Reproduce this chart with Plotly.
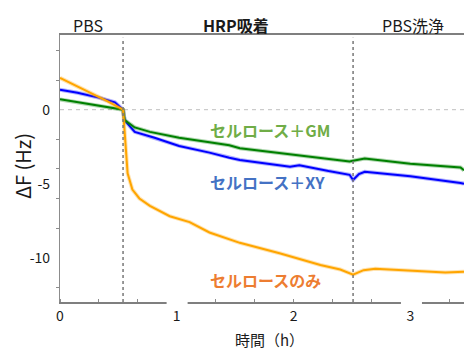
import plotly.graph_objects as go

# ---- data (time in hours, ΔF in Hz) ----
only_t = [0.0, 0.20, 0.40, 0.54, 0.553, 0.579, 0.62, 0.68, 0.77, 0.94, 1.11, 1.28, 1.54, 1.88, 2.23, 2.40, 2.51, 2.60, 2.70, 3.08, 3.30, 3.46]
only_v = [2.15, 1.40, 0.60, 0.0, -1.6, -4.3, -5.4, -6.0, -6.5, -7.2, -7.6, -8.3, -9.0, -9.7, -10.5, -10.8, -11.15, -10.85, -10.75, -10.9, -11.0, -10.95]

xy_t = [0.0, 0.15, 0.34, 0.47, 0.54, 0.553, 0.64, 0.81, 1.02, 1.28, 1.45, 1.54, 1.97, 2.05, 2.30, 2.48, 2.51, 2.56, 2.61, 3.00, 3.43, 3.46]
xy_v = [1.35, 1.15, 0.80, 0.50, 0.0, -0.7, -1.5, -1.9, -2.45, -2.9, -3.25, -3.4, -3.85, -3.75, -4.15, -4.4, -4.75, -4.35, -4.2, -4.5, -4.95, -5.0]

gm_t = [0.0, 0.27, 0.54, 0.553, 0.64, 0.77, 1.02, 1.28, 1.45, 1.54, 1.97, 2.48, 2.51, 2.61, 3.00, 3.43, 3.46]
gm_v = [0.70, 0.35, 0.0, -0.7, -1.2, -1.5, -1.9, -2.2, -2.4, -2.6, -3.0, -3.5, -3.45, -3.3, -3.65, -3.9, -4.1]

event_t = [0.54, 2.51]
phase_labels = ["PBS", "<b>HRP吸着</b>", "PBS洗浄"]
phase_x = [0.236, 1.505, 3.02]
x_ticks = [0, 1, 2, 3]
y_ticks = [0, -5, -10]
y_minor = [4, 2, -2, -4, -6, -8, -12]

FONT = "Noto Sans CJK JP"
X0, X1 = 0.0, 3.46
Y0, Y1 = -13.0, 5.05

fig = go.Figure()

series = [
    (xy_t, xy_v, "#0000FF"),
    (gm_t, gm_v, "#008000"),
    (only_t, only_v, "#FFA500"),
]
for t, v, c in series:
    fig.add_trace(go.Scatter(x=t, y=v, mode="lines",
                             line=dict(color=c, width=4), opacity=0.3,
                             hoverinfo="skip", showlegend=False))
    fig.add_trace(go.Scatter(x=t, y=v, mode="lines",
                             line=dict(color=c, width=2), showlegend=False))

# zero reference line
fig.add_shape(type="line", xref="x", yref="y", x0=X0, x1=X1, y0=0, y1=0,
              line=dict(color="#BFBFBF", width=1, dash="4px,4px"), layer="below")
# event dotted lines
for et in event_t:
    fig.add_shape(type="line", xref="x", yref="paper", x0=et, x1=et, y0=0, y1=0.99,
                  line=dict(color="#777777", width=1.5, dash="dot"))
# gaps in the bottom axis line
for a, b in [(0.913, 1.093), (2.92, 3.10)]:
    fig.add_shape(type="rect", xref="x", yref="paper", x0=a, x1=b, y0=-0.012, y1=0.016,
                  line=dict(width=0), fillcolor="white", layer="above")

# phase labels
for lbl, px in zip(phase_labels, phase_x):
    fig.add_annotation(x=px, y=1.037, xref="x", yref="paper", text=lbl, showarrow=False,
                       font=dict(family=FONT, size=16, color="#1a1a1a"),
                       xanchor="center", yanchor="middle")

# series labels
fig.add_annotation(x=1.265, y=-1.35, xref="x", yref="y", text="<b>セルロース＋GM</b>",
                   showarrow=False, xanchor="left", yanchor="middle",
                   font=dict(family=FONT, size=16, color="#70AD47"))
fig.add_annotation(x=1.265, y=-4.86, xref="x", yref="y", text="<b>セルロース＋XY</b>",
                   showarrow=False, xanchor="left", yanchor="middle",
                   font=dict(family=FONT, size=16, color="#4472C4"))
fig.add_annotation(x=1.265, y=-11.5, xref="x", yref="y", text="<b>セルロースのみ</b>",
                   showarrow=False, xanchor="left", yanchor="middle",
                   font=dict(family=FONT, size=16, color="#ED7D31"))

# axis titles
fig.add_annotation(x=0.519, y=-0.142, xref="paper", yref="paper", text="時間（h）",
                   showarrow=False, xanchor="center", yanchor="middle",
                   font=dict(family=FONT, size=15, color="#1a1a1a"))
fig.add_annotation(x=-0.094, y=0.509, xref="paper", yref="paper", text="ΔF (Hz)",
                   showarrow=False, xanchor="center", yanchor="middle", textangle=-90,
                   font=dict(family=FONT, size=20, color="#1a1a1a"))

fig.update_layout(
    width=464, height=350,
    margin=dict(l=60, r=0, t=35, b=48),
    paper_bgcolor="white", plot_bgcolor="white",
    font=dict(family=FONT, size=14, color="#1a1a1a"),
    xaxis=dict(range=[X0, X1], showgrid=False, zeroline=False,
               showline=True, mirror=True, linecolor="#7F7F7F", linewidth=1.5,
               tickvals=x_ticks, ticktext=[str(v) for v in x_ticks], ticks="",
               tickfont=dict(size=14),
               minor=dict(dtick=1/3, tick0=0, ticks="inside", ticklen=3,
                          tickcolor="#8C8C8C", showgrid=False)),
    yaxis=dict(range=[Y0, Y1], showgrid=False, zeroline=False, showline=True,
               linecolor="#8C8C8C", linewidth=1.3,
               tickvals=y_ticks, ticktext=[str(v) for v in y_ticks], ticks="",
               tickfont=dict(size=14), ticklabelstandoff=6,
               minor=dict(tickvals=y_minor, ticks="outside", ticklen=3,
                          tickcolor="#8C8C8C", showgrid=False)),
)

fig.write_html("out.html", config={"displayModeBar": False},
               post_script="document.body.style.margin='0';document.body.style.overflow='hidden';")
